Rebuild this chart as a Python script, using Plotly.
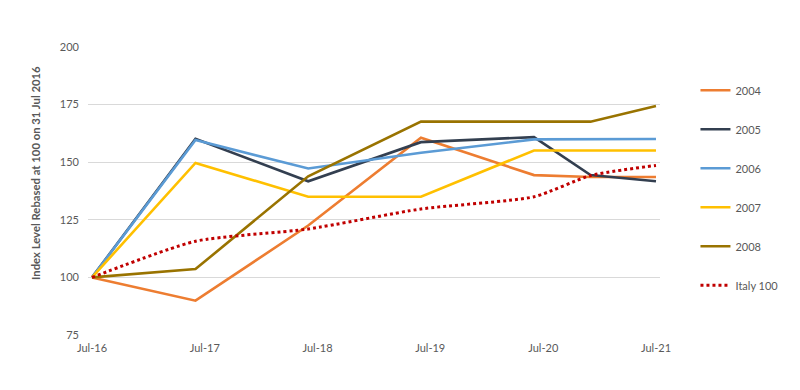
import plotly.graph_objects as go

dates = ["2016-07-01", "2017-06-01", "2018-06-01", "2019-06-01",
         "2020-06-01", "2020-12-01", "2021-07-01"]
s2004 = [100, 89.9, 122.5, 160.6, 144.4, 143.6, 143.6]
s2005 = [100, 160.2, 141.7, 158.7, 160.9, 144.4, 141.7]
s2006 = [100, 159.6, 147.3, 154.1, 159.9, 160.0, 160.1]
s2007 = [100, 149.7, 135.0, 135.0, 155.1, 155.1, 155.1]
s2008 = [100, 103.6, 143.9, 167.6, 167.6, 167.6, 174.4]
italy = [100, 115.7, 121.0, 129.7, 135.0, 144.2, 148.6]

tick_vals = ["2016-07-01", "2017-07-01", "2018-07-01", "2019-07-01",
             "2020-07-01", "2021-07-01"]
tick_text = ["Jul-16", "Jul-17", "Jul-18", "Jul-19", "Jul-20", "Jul-21"]
y_ticks = [75, 100, 125, 150, 175, 200]

FONT = "Lato"
GREY = "#595959"

series = [
    ("2004", s2004, "#ED7D31", "solid"),
    ("2005", s2005, "#333F50", "solid"),
    ("2006", s2006, "#5B9BD5", "solid"),
    ("2007", s2007, "#FFC000", "solid"),
    ("2008", s2008, "#997300", "solid"),
]

fig = go.Figure()
for name, vals, color, dash in series:
    fig.add_trace(go.Scatter(
        x=dates, y=vals, name=name, mode="lines", legendgroup=name,
        line=dict(color=color, width=2.6, dash=dash),
    ))
fig.add_trace(go.Scatter(
    x=dates, y=italy, name="Italy 100", mode="lines", legendgroup="italy",
    line=dict(color="#C00000", width=3, dash="dot", shape="spline", smoothing=0.6),
))

# page body has an 8px margin, so the figure is offset by (8, 8)
fig.update_layout(
    width=800, height=390,
    margin=dict(l=80, r=148, t=39, b=63),
    paper_bgcolor="white", plot_bgcolor="white",
    font=dict(family=FONT, size=11, color=GREY),
    showlegend=True,
    legend=dict(
        x=1.062, y=0.90, xanchor="left", yanchor="top",
        traceorder="grouped", tracegroupgap=20,
        font=dict(family=FONT, size=11, color=GREY),
        itemwidth=30, bgcolor="rgba(0,0,0,0)",
    ),
    xaxis=dict(
        type="date", range=["2016-06-18", "2021-07-14"],
        tickmode="array", tickvals=tick_vals, ticktext=tick_text,
        showgrid=False, zeroline=False, showline=False, ticks="",
        ticklabelstandoff=5,
        tickfont=dict(family=FONT, size=11, color=GREY),
    ),
    yaxis=dict(
        range=[75, 200], tickmode="array", tickvals=y_ticks,
        showgrid=True, gridcolor="#D9D9D9", gridwidth=1,
        zeroline=False, showline=False, ticks="", ticklen=0,
        ticklabelstandoff=8,
        tickfont=dict(family=FONT, size=11, color=GREY),
    ),
    annotations=[dict(
        text="<b>Index Level Rebased at 100 on 31 Jul 2016</b>",
        xref="paper", yref="paper",
        x=(35 - 88) / 572, y=(335 - 173) / 288,
        xanchor="center", yanchor="middle", textangle=-90, showarrow=False,
        font=dict(family=FONT, size=11.3, color=GREY),
    )],
)

fig.write_html("out.html")
